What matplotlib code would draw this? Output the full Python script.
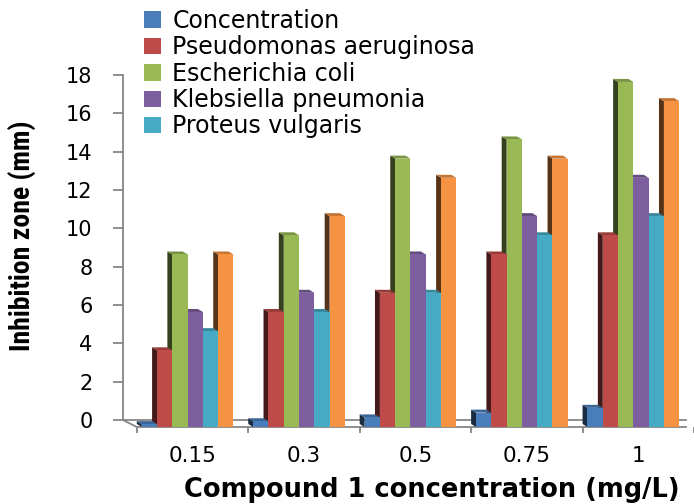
import numpy as np
import matplotlib.pyplot as plt
from matplotlib.colors import to_rgb

# data
categories = ['0.15', '0.3', '0.5', '0.75', '1']
concentration = [0.15, 0.3, 0.5, 0.75, 1.0]
pseudomonas = [4, 6, 7, 9, 10]
e_coli = [9, 10, 14, 15, 18]
klebsiella = [6, 7, 9, 11, 13]
proteus = [5, 6, 7, 10, 11]
orange_series = [9, 11, 13, 14, 17]   # legend entry for this one is cut off

names = ['Concentration', 'Pseudomonas aeruginosa', 'Escherichia coli',
         'Klebsiella pneumonia', 'Proteus vulgaris', '_nolegend_']
values = [concentration, pseudomonas, e_coli, klebsiella, proteus, orange_series]
colors = ['#4A7EBB', '#BE4B48', '#98B954', '#7D5FA0', '#46AAC5', '#F59343']

W, H = 694, 504
grey = '#868686'

# pixel geometry of the fake 3d frame
sx = 113.0     # px per category
sy = 19.17     # px per mm
ax_l, ax_r, ax_b, ax_t = 123, 694, 445, 55
front_left, front_zero = 137, 427
fdx, fdy = 14 / sx, 7 / sy      # floor depth
bdx, bdy = 5 / sx, 3 / sy       # bar depth
bw = 15.5 / sx
group_off = -5 / sx

fig = plt.figure(figsize=(W / 100, H / 100), dpi=100)
ax = fig.add_axes([ax_l / W, 1 - ax_b / H, (ax_r - ax_l) / W, (ax_b - ax_t) / H])
ax.set_facecolor('none')

xl = -0.5 - (front_left - ax_l) / sx
xr = -0.5 + (ax_r - front_left) / sx
ax.set_xlim(xl, xr)
ax.set_ylim(-(ax_b - front_zero) / sy, (front_zero - ax_t) / sy)

x = np.arange(len(categories))
n = len(values)
for j in range(n - 1, -1, -1):
    c = np.array(to_rgb(colors[j]))
    dark = c * 0.35
    top = c * 0.8
    lefts = x + group_off - n / 2 * bw + j * bw
    ax.bar(lefts, values[j], width=bw, align='edge', color=colors[j],
           label=names[j], zorder=10 - j)
    for xl_b, v in zip(lefts, values[j]):
        ax.fill([xl_b, xl_b - bdx, xl_b - bdx, xl_b],
                [0, bdy, v + bdy, v], color=dark, lw=0, zorder=9.5 - j)
        ax.fill([xl_b, xl_b - bdx, xl_b + bw - bdx, xl_b + bw],
                [v, v + bdy, v + bdy, v], color=top, lw=0, zorder=9.5 - j)

# axes decoration
for s in ['top', 'right']:
    ax.spines[s].set_visible(False)
ax.spines['left'].set_position(('data', xl))
ax.spines['left'].set_bounds(fdy, 18 + fdy)
ax.spines['bottom'].set_position(('data', 0))
ax.spines['bottom'].set_bounds(-0.5, xr)
for s in ['left', 'bottom']:
    ax.spines[s].set_color(grey)
    ax.spines[s].set_linewidth(1.3)

yt = np.arange(0, 19, 2)
ax.set_yticks(yt + fdy)
ax.set_yticklabels([str(v) for v in yt])
ax.tick_params(axis='y', length=7, width=1.3, color=grey, pad=15, labelsize=15)

ax.set_xticks(x)
ax.set_xticklabels(categories)
ax.set_xticks(np.arange(-0.5, len(categories), 1), minor=True)
ax.tick_params(axis='x', which='major', length=0, pad=14, labelsize=15.5)
ax.tick_params(axis='x', which='minor', length=4.5, width=1.3, color=grey)

ax.plot([xl, xr], [fdy, fdy], color=grey, lw=1.3, clip_on=False, zorder=1)
ax.plot([xl, -0.5], [fdy, 0], color=grey, lw=1.3, clip_on=False, zorder=1)

fig.text(432 / W, 1 - 490 / H, 'Compound 1 concentration (mg/L)',
         ha='center', va='center', fontsize=18.5, fontweight='bold')
fig.text(22 / W, 1 - 236 / H, 'Inhibition zone (mm)', rotation=90,
         ha='center', va='center', fontsize=20, fontweight='bold',
         family=['Liberation Sans Narrow', 'Roboto Condensed',
                 'Open Sans Condensed', 'DejaVu Sans'])

handles, labels = ax.get_legend_handles_labels()
order = [labels.index(nm) for nm in names[:5]]
fig.legend([handles[i] for i in order], [labels[i] for i in order],
           loc='upper left', bbox_to_anchor=(144 / W, 1 - 9 / H),
           frameon=False, fontsize=17, handlelength=0.7, handleheight=0.7,
           handletextpad=0.5, labelspacing=0.1, borderaxespad=0, borderpad=0)

fig.savefig('out.png', dpi=100)
